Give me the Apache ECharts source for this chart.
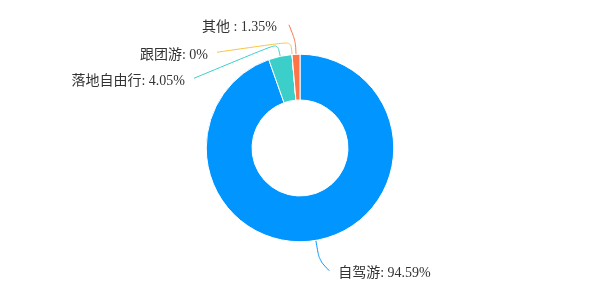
<!DOCTYPE html>
<html>
<head>
<meta charset="utf-8">
<script src="https://cdn.jsdelivr.net/npm/echarts@6/dist/echarts.min.js"></script>
<style>
html, body { margin: 0; padding: 0; background: #fff; }
#chart { width: 600px; height: 300px; }
</style>
</head>
<body>
<div id="chart"></div>
<script>
// 出行方式
var names = ["自驾游", "落地自由行", "跟团游", "其他 "];
var values = [70, 3, 0, 1];
var colors = ["#0095ff", "#3ccfc9", "#f9c440", "#ff7548"];

var total = values.reduce(function (a, b) { return a + b; }, 0);

// 标签错开（像素偏移）
var labelOffsets = [[0, 13.6], [-73.5, 37.6], [-64, 13.6], [0.5, -13.6]];

var chart = echarts.init(document.getElementById("chart"));
var option = {
  color: colors,
  series: [
    {
      type: "pie",
      center: ["50%", 148],
      radius: ["32%", "62.5%"],
      startAngle: 90,
      clockwise: true,
      avoidLabelOverlap: false,
      itemStyle: { borderColor: "#fff", borderWidth: 1 },
      label: {
        formatter: function (p) {
          return p.name + ": " + parseFloat((p.value / total * 100).toFixed(2)) + "%";
        },
        color: "#333",
        fontSize: 14,
        distanceToLabelLine: 9,
        fontFamily: "Liberation Serif, Noto Sans CJK SC, serif"
      },
      labelLine: { length: 13, length2: 10, smooth: true },
      labelLayout: function (p) {
        var off = labelOffsets[p.dataIndex];
        var pts = p.labelLinePoints;
        var end = [pts[2][0] + off[0], pts[2][1] + off[1] - 3];
        if (p.dataIndex === 3) end[0] += 3;
        return {
          dx: off[0],
          dy: off[1],
          labelLinePoints: [pts[0], pts[1], end]
        };
      },
      data: names.map(function (n, i) {
        var d = { name: n, value: values[i] };
        if (i === 0) d.labelLine = { length: 20 };
        return d;
      })
    }
  ]
};
chart.setOption(option);
</script>
</body>
</html>
